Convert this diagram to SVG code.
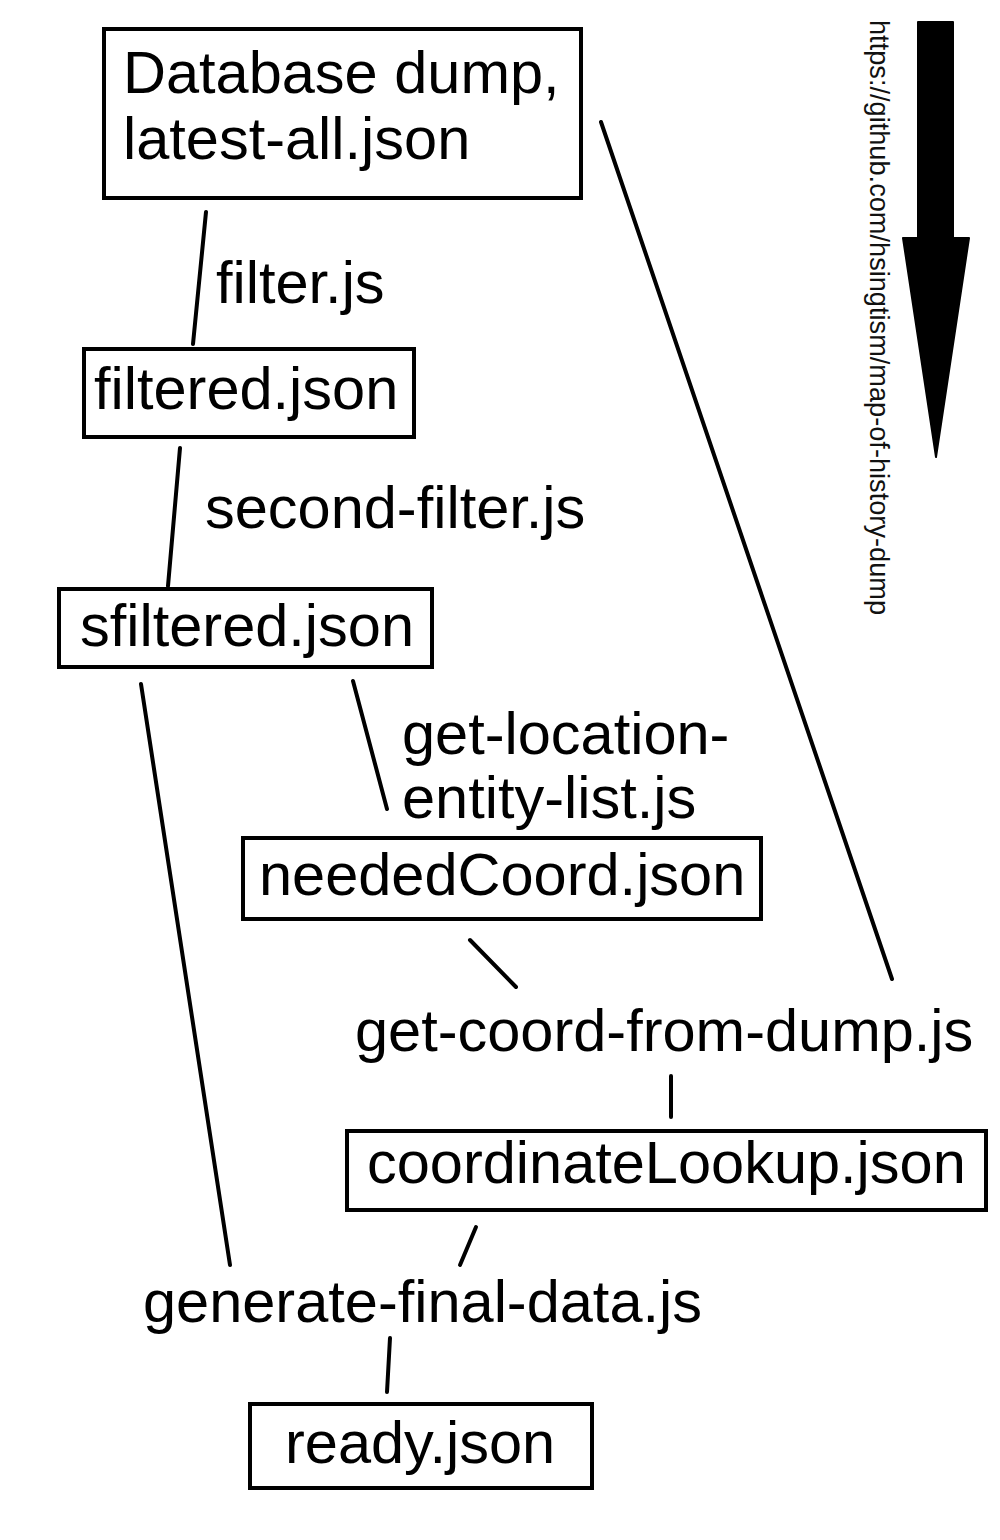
<svg xmlns="http://www.w3.org/2000/svg" width="1000" height="1540" viewBox="0 0 1000 1540">
<style>
.box{fill:#fff;stroke:#000;stroke-width:4}
.t{font-family:"Liberation Sans",Arial,sans-serif;font-size:59.5px;fill:#000}
.c{stroke:#000;stroke-width:4;stroke-linecap:round;fill:none}
.url{font-family:"Liberation Sans",Arial,sans-serif;font-size:28px;fill:#111}
</style>
<rect width="1000" height="1540" fill="#fff"/>
<g id="connectors">
<line class="c" x1="206" y1="212" x2="193" y2="344"/>
<line class="c" x1="180" y1="448" x2="168" y2="586"/>
<line class="c" x1="353" y1="681" x2="387" y2="809"/>
<line class="c" x1="601" y1="122" x2="892" y2="979"/>
<line class="c" x1="470" y1="940" x2="516" y2="987"/>
<line class="c" x1="671" y1="1076" x2="671" y2="1117"/>
<line class="c" x1="141" y1="684" x2="230" y2="1265"/>
<line class="c" x1="476" y1="1227" x2="460" y2="1265"/>
<line class="c" x1="390" y1="1338" x2="387" y2="1392"/>
</g>
<g id="node-dump">
<rect class="box" x="104" y="29" width="477" height="169"/>
<text class="t" x="123" y="93">Database dump,</text>
<text class="t" x="123" y="159">latest-all.json</text>
</g>
<g id="label-filter">
<text class="t" x="216" y="303">filter.js</text>
</g>
<g id="node-filtered">
<rect class="box" x="84" y="349" width="330" height="88"/>
<text class="t" x="94" y="409">filtered.json</text>
</g>
<g id="label-second-filter">
<text class="t" x="205" y="528">second-filter.js</text>
</g>
<g id="node-sfiltered">
<rect class="box" x="59" y="589" width="373" height="78"/>
<text class="t" x="80" y="646">sfiltered.json</text>
</g>
<g id="label-get-location">
<text class="t" x="402" y="754">get-location-</text>
<text class="t" x="402" y="818">entity-list.js</text>
</g>
<g id="node-neededCoord">
<rect class="box" x="243" y="838" width="518" height="81"/>
<text class="t" x="259" y="895">neededCoord.json</text>
</g>
<g id="label-get-coord">
<text class="t" x="355" y="1051">get-coord-from-dump.js</text>
</g>
<g id="node-coordinateLookup">
<rect class="box" x="347" y="1131" width="639" height="79"/>
<text class="t" x="367" y="1183">coordinateLookup.json</text>
</g>
<g id="label-generate">
<text class="t" x="143" y="1322">generate-final-data.js</text>
</g>
<g id="node-ready">
<rect class="box" x="250" y="1404" width="342" height="84"/>
<text class="t" x="285" y="1463">ready.json</text>
</g>
<g id="direction-arrow">
<path d="M918,22 L953,22 L953,238 L969,238 L936,457 L903,238 L918,238 Z" fill="#000" stroke="#000" stroke-width="2" stroke-linejoin="round"/>
</g>
<g id="url-label">
<text class="url" transform="translate(870,20) rotate(90)" textLength="595" lengthAdjust="spacingAndGlyphs">https://github.com/hsingtism/map-of-history-dump</text>
</g>
</svg>
